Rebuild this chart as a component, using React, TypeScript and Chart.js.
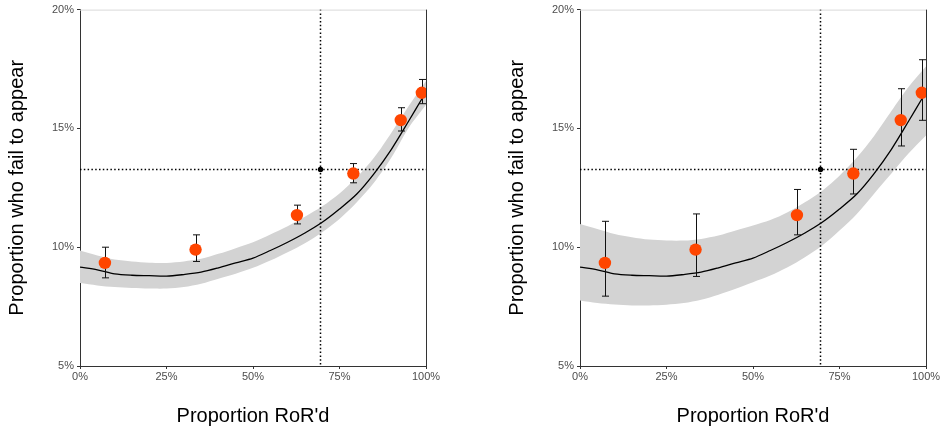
import React, { useEffect, useRef } from "react";
import { Chart, registerables } from "chart.js";

Chart.register(...registerables);

// ---- data ----
const pointX = [7.2, 33.4, 62.7, 79.0, 92.7, 98.8];
const pointY = [9.34, 9.9, 11.35, 13.1, 15.35, 16.5];

const leftErrLo = [8.71, 9.4, 10.98, 12.71, 14.89, 16.04];
const leftErrHi = [10.0, 10.52, 11.77, 13.52, 15.87, 17.06];
const rightErrLo = [7.94, 8.77, 10.52, 12.24, 14.26, 15.34];
const rightErrHi = [11.09, 11.4, 12.43, 14.12, 16.67, 17.89];

const curveX = [0, 5, 10, 15, 20, 25, 30, 35, 40, 45, 50, 55, 60, 65, 70, 75, 80, 85, 90, 95, 99];
const curveY = [9.16, 9.05, 8.88, 8.82, 8.8, 8.78, 8.85, 8.95, 9.13, 9.34, 9.54, 9.86, 10.21, 10.6, 11.05, 11.61, 12.24, 13.1, 14.12, 15.31, 16.29];

const bandX = [0, 5, 10, 15, 20, 25, 30, 35, 40, 45, 50, 55, 60, 65, 70, 75, 80, 85, 90, 95, 100];
const leftBandHi = [9.86, 9.65, 9.48, 9.4, 9.35, 9.34, 9.4, 9.51, 9.72, 9.96, 10.21, 10.53, 10.88, 11.28, 11.72, 12.26, 12.94, 13.77, 14.82, 15.94, 17.0];
const leftBandLo = [8.49, 8.39, 8.32, 8.28, 8.26, 8.26, 8.32, 8.46, 8.67, 8.88, 9.13, 9.44, 9.79, 10.17, 10.63, 11.19, 11.89, 12.72, 13.77, 15.03, 16.0];
const rightBandHi = [10.98, 10.77, 10.56, 10.42, 10.32, 10.28, 10.28, 10.35, 10.49, 10.7, 10.91, 11.14, 11.47, 11.89, 12.38, 13.01, 13.77, 14.68, 15.73, 16.75, 17.6];
const rightBandLo = [7.76, 7.65, 7.59, 7.55, 7.55, 7.58, 7.65, 7.79, 8.0, 8.25, 8.53, 8.81, 9.16, 9.58, 10.07, 10.7, 11.4, 12.25, 13.1, 13.95, 14.7];

const refX = 69.4;
const refY = 13.31;

const xTicks = [0, 25, 50, 75, 100];
const yTicks = [5, 10, 15, 20];

const xTitle = "Proportion RoR'd";
const yTitle = "Proportion who fail to appear";

const FONT = "'Liberation Sans', Arial, sans-serif";

type PanelProps = { errLo: number[]; errHi: number[]; bandLo: number[]; bandHi: number[] };

function Panel({ errLo, errHi, bandLo, bandHi }: PanelProps) {
  const ref = useRef<HTMLCanvasElement | null>(null);

  useEffect(() => {
    if (!ref.current) return;

    const overlay = {
      id: "overlay",
      afterDatasetDraw(chart: any, args: any) {
        if (args.meta.label !== "curve") return;
        const { ctx, chartArea } = chart;
        const xs = chart.scales.x;
        const ys = chart.scales.y;
        ctx.save();
        // reference lines
        ctx.strokeStyle = "#000";
        ctx.lineWidth = 1.5;
        ctx.setLineDash([1.5, 2.3]);
        const vx = Math.round(xs.getPixelForValue(refX)) + 0.5;
        const hy = Math.round(ys.getPixelForValue(refY)) + 0.5;
        ctx.beginPath();
        ctx.moveTo(vx, chartArea.top);
        ctx.lineTo(vx, chartArea.bottom);
        ctx.moveTo(chartArea.left, hy);
        ctx.lineTo(chartArea.right, hy);
        ctx.stroke();
        ctx.setLineDash([]);
        ctx.fillStyle = "#000";
        ctx.beginPath();
        ctx.arc(vx, hy, 2.7, 0, Math.PI * 2);
        ctx.fill();
        // error bars
        ctx.strokeStyle = "#111";
        ctx.lineWidth = 1;
        for (let i = 0; i < pointX.length; i++) {
          const px = Math.round(xs.getPixelForValue(pointX[i])) + 0.5;
          const y1 = ys.getPixelForValue(errLo[i]);
          const y2 = ys.getPixelForValue(errHi[i]);
          ctx.beginPath();
          ctx.moveTo(px, y1);
          ctx.lineTo(px, y2);
          ctx.moveTo(px - 3.5, y1);
          ctx.lineTo(px + 3.5, y1);
          ctx.moveTo(px - 3.5, y2);
          ctx.lineTo(px + 3.5, y2);
          ctx.stroke();
        }
        ctx.restore();
      },
      afterDraw(chart: any) {
        const { ctx, chartArea } = chart;
        ctx.save();
        ctx.lineWidth = 1;
        ctx.strokeStyle = "#d9d9d9";
        ctx.beginPath();
        ctx.moveTo(chartArea.left, chartArea.top + 0.5);
        ctx.lineTo(chartArea.right, chartArea.top + 0.5);
        ctx.stroke();
        ctx.strokeStyle = "#333";
        ctx.beginPath();
        ctx.moveTo(Math.round(chartArea.right) + 0.5, chartArea.top);
        ctx.lineTo(Math.round(chartArea.right) + 0.5, chartArea.bottom);
        ctx.stroke();
        ctx.restore();
      },
    };

    const chart = new Chart(ref.current, {
      type: "line",
      data: {
        datasets: [
          {
            label: "points",
            data: pointX.map((x, i) => ({ x, y: pointY[i] })),
            showLine: false,
            pointRadius: 6.2,
            pointBackgroundColor: "#FF4500",
            pointBorderWidth: 0,
            order: 0,
          },
          {
            label: "curve",
            data: curveX.map((x, i) => ({ x, y: curveY[i] })),
            borderColor: "#000",
            borderWidth: 1.3,
            pointRadius: 0,
            tension: 0.3,
            fill: false,
            order: 1,
          },
          {
            label: "bandHi",
            data: bandX.map((x, i) => ({ x, y: bandHi[i] })),
            borderWidth: 0,
            borderColor: "rgba(0,0,0,0)",
            backgroundColor: "#d3d3d3",
            pointRadius: 0,
            tension: 0.3,
            fill: "+1",
            order: 2,
          },
          {
            label: "bandLo",
            data: bandX.map((x, i) => ({ x, y: bandLo[i] })),
            borderWidth: 0,
            borderColor: "rgba(0,0,0,0)",
            pointRadius: 0,
            tension: 0.3,
            fill: false,
            order: 3,
          },
        ],
      },
      options: {
        animation: false,
        responsive: false,
        events: [],
        layout: { padding: { left: 0, right: 16, top: 8, bottom: 0 } },
        plugins: { legend: { display: false }, tooltip: { enabled: false } },
        scales: {
          x: {
            type: "linear",
            min: 0,
            max: 100,
            afterBuildTicks: (s: any) => {
              s.ticks = xTicks.map((v) => ({ value: v }));
            },
            afterFit: (s: any) => {
              s.height = 64;
            },
            ticks: {
              callback: (v: any) => v + "%",
              color: "#4d4d4d",
              font: { size: 11, family: FONT },
              padding: 1,
              maxRotation: 0,
            },
            grid: { drawOnChartArea: false, drawTicks: true, tickLength: 3, color: "#333" },
            border: { display: true, color: "#333", width: 1 },
            title: {
              display: true,
              text: xTitle,
              color: "#000",
              font: { size: 20, family: FONT },
              padding: { top: 0, bottom: 2 },
            },
          },
          y: {
            type: "linear",
            min: 5,
            max: 20,
            afterBuildTicks: (s: any) => {
              s.ticks = yTicks.map((v) => ({ value: v }));
            },
            afterFit: (s: any) => {
              s.width = 80;
            },
            ticks: {
              callback: (v: any) => v + "%",
              color: "#4d4d4d",
              font: { size: 11, family: FONT },
              padding: 3,
            },
            grid: { drawOnChartArea: false, drawTicks: true, tickLength: 3, color: "#333" },
            border: { display: true, color: "#333", width: 1 },
            title: {
              display: true,
              text: yTitle,
              color: "#000",
              font: { size: 20, family: FONT },
              padding: { top: 5, bottom: 0 },
            },
          },
        },
      },
      plugins: [overlay],
    } as any);

    return () => chart.destroy();
  }, [errLo, errHi, bandLo, bandHi]);

  return <canvas ref={ref} width={442} height={430} style={{ width: 442, height: 430, display: "block" }} />;
}

export default function App() {
  return (
    <div style={{ position: "absolute", left: 0, top: 0, width: 942, height: 430, background: "#fff" }}>
      <div style={{ position: "absolute", left: 0, top: 0 }}>
        <Panel errLo={leftErrLo} errHi={leftErrHi} bandLo={leftBandLo} bandHi={leftBandHi} />
      </div>
      <div style={{ position: "absolute", left: 500, top: 0 }}>
        <Panel errLo={rightErrLo} errHi={rightErrHi} bandLo={rightBandLo} bandHi={rightBandHi} />
      </div>
    </div>
  );
}
